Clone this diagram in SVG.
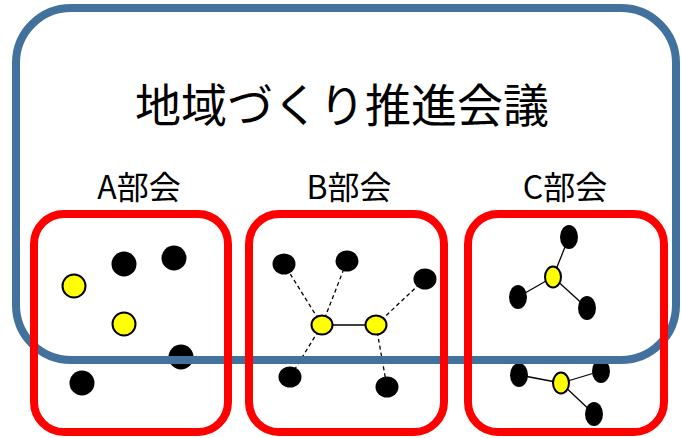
<svg xmlns="http://www.w3.org/2000/svg" width="682" height="438" viewBox="0 0 682 438">
<style>
.t{font-family:"Noto Sans CJK JP","Noto Sans",sans-serif;fill:#000;text-anchor:middle}
.blk{fill:#000}
.yl{fill:#FFFF00;stroke:#000;stroke-width:2}
.dash{stroke:#000;stroke-width:1.3;stroke-dasharray:4 3;fill:none}
.sol{stroke:#000;stroke-width:1.3;fill:none}
.box{fill:none;stroke:#FF0000;stroke-width:8}
</style>
<rect width="682" height="438" fill="#fff"/>
<g id="connectors">
<line class="dash" x1="322" y1="325" x2="284" y2="264"/>
<line class="dash" x1="322" y1="325" x2="347" y2="261"/>
<line class="dash" x1="322" y1="325" x2="290" y2="377"/>
<line class="sol" x1="322" y1="325" x2="376" y2="325"/>
<line class="dash" x1="376" y1="325" x2="425" y2="279"/>
<line class="dash" x1="376" y1="325" x2="387" y2="387"/>
<line class="sol" x1="553" y1="277" x2="569" y2="237"/>
<line class="sol" x1="553" y1="277" x2="518" y2="297"/>
<line class="sol" x1="553" y1="277" x2="587" y2="308"/>
<line class="sol" x1="561" y1="383" x2="519" y2="375"/>
<line class="sol" x1="561" y1="383" x2="601" y2="371"/>
<line class="sol" x1="561" y1="383" x2="594" y2="414"/>
</g>
<g id="groupA-nodes">
<circle class="yl" cx="74" cy="286" r="11.5"/>
<circle class="blk" cx="124" cy="264" r="12.5"/>
<circle class="blk" cx="174" cy="258" r="12.5"/>
<circle class="yl" cx="124" cy="324" r="11.5"/>
<circle class="blk" cx="181" cy="357" r="12.5"/>
<circle class="blk" cx="82" cy="383" r="12.5"/>
</g>
<g id="groupB-nodes">
<ellipse class="blk" cx="284" cy="264" rx="11.5" ry="10.5"/>
<ellipse class="blk" cx="347" cy="261" rx="11.5" ry="10.5"/>
<ellipse class="blk" cx="425" cy="279" rx="11.5" ry="10.5"/>
<ellipse class="yl" cx="322" cy="325" rx="10.5" ry="9.5"/>
<ellipse class="yl" cx="376" cy="325" rx="10.5" ry="9.5"/>
<ellipse class="blk" cx="290" cy="377" rx="11.5" ry="10.5"/>
<ellipse class="blk" cx="387" cy="387" rx="11.5" ry="10.5"/>
</g>
<g id="groupC-nodes">
<ellipse class="blk" cx="569" cy="237" rx="9" ry="12"/>
<ellipse class="yl" cx="553" cy="277" rx="8" ry="10.5"/>
<ellipse class="blk" cx="518" cy="297" rx="9" ry="12"/>
<ellipse class="blk" cx="587" cy="308" rx="9" ry="12"/>
<ellipse class="blk" cx="519" cy="375" rx="9" ry="12"/>
<ellipse class="yl" cx="561" cy="383" rx="8" ry="10.5"/>
<ellipse class="blk" cx="601" cy="371" rx="9" ry="12"/>
<ellipse class="blk" cx="594" cy="414" rx="9" ry="12"/>
</g>
<g id="council">
<rect x="16" y="8" width="660" height="352" rx="55" ry="55" fill="none" stroke="#41719C" stroke-width="8"/>
<text class="t" x="342" y="122" font-size="46">地域づくり推進会議</text>
</g>
<g id="groupA">
<rect class="box" x="34" y="214" width="194" height="218" rx="30" ry="30"/>
<text class="t" x="139" y="199" font-size="32">A部会</text>
</g>
<g id="groupB">
<rect class="box" x="249" y="214" width="195" height="218" rx="30" ry="30"/>
<text class="t" x="349" y="199" font-size="32">B部会</text>
</g>
<g id="groupC">
<rect class="box" x="468" y="214" width="196" height="218" rx="30" ry="30"/>
<text class="t" x="565" y="199" font-size="32">C部会</text>
</g>
</svg>
